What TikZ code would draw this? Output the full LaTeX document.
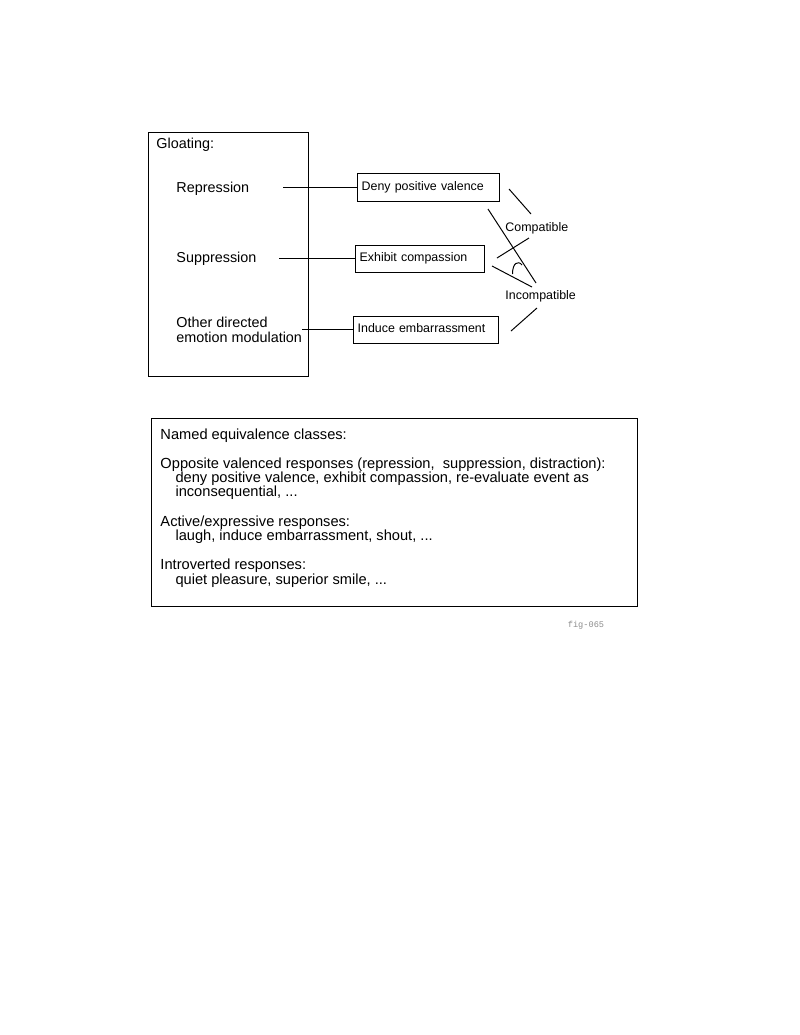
\documentclass[tikz,border=0pt]{standalone}
\usepackage{fontspec}
\setmainfont{Liberation Sans}
\newfontfamily\figmono{Liberation Mono}
\begin{document}
\begin{tikzpicture}[x=0.765pt,y=-0.765pt,line width=0.75pt,
  frame/.style={draw, anchor=north west, inner sep=0pt},
  biglabel/.style={anchor=base west, inner sep=0pt, font=\fontsize{11}{10.9}\selectfont, align=left},
  actbox/.style={draw, anchor=north west, inner xsep=3.2pt, inner ysep=0pt, align=left, text height=7pt, text depth=2.8pt, font=\fontsize{9.5}{11}\selectfont},
  relabel/.style={anchor=base west, inner sep=0pt, font=\fontsize{9.5}{11}\selectfont},
  bodytext/.style={anchor=base west, inner sep=0pt, align=left, font=\fontsize{11.2}{10.9}\selectfont}]
\useasboundingbox (0,0) rectangle (800,1035);

% Gloating box
\node[frame, minimum width=122.4pt, minimum height=186.7pt] (gloatbox) at (148,132) {};
\node[biglabel] (gloat) at (156,148) {Gloating:};
\node[biglabel] (rep) at (176,192) {Repression};
\node[biglabel] (sup) at (176,262) {Suppression};
% base anchor of a multi-line node lies on its last line
\node[biglabel] (other) at (176,342) {Other directed\\emotion modulation};

% action boxes
\node[actbox, text width=102.5pt, minimum height=21.4pt] (deny) at (357,173) {Deny positive valence};
\node[actbox, text width=92.3pt, minimum height=20.7pt] (exhibit) at (355,245) {Exhibit compassion};
\node[actbox, text width=104.5pt, minimum height=20.7pt] (induce) at (353,316) {Induce embarrassment};

% connectors from the labels
\coordinate (repL) at (283,187);
\coordinate (supL) at (279,258);
\coordinate (otherL) at (302,329.5);
\draw (repL) -- (repL -| deny.west);
\draw (supL) -- (supL -| exhibit.west);
\draw (otherL) -- (otherL -| induce.west);

% relation labels
\node[relabel] (compat) at (505,231) {Compatible};
\node[relabel] (incompat) at (505,299) {Incompatible};

% relation strokes
\coordinate (c1a) at (509,189); \coordinate (c1b) at (531,214);
\coordinate (c2a) at (488,209); \coordinate (c2b) at (536,283);
\coordinate (c3a) at (497,258); \coordinate (c3b) at (529,238);
\coordinate (c4a) at (492,266); \coordinate (c4b) at (532,287);
\coordinate (c5a) at (511,331); \coordinate (c5b) at (537,308);
\draw (c1a) -- (c1b);
\draw (c2a) -- (c2b);
\draw (c3a) -- (c3b);
\draw (c4a) -- (c4b);
\draw (c5a) -- (c5b);
\coordinate (arcA) at (512.5,274);
\coordinate (arcB) at (522,265);
\draw (arcA) .. controls (512.5,263) and (518,260) .. (arcB);

% classes box
\node[frame, minimum width=371.8pt, minimum height=143.8pt] (classbox) at (151,418) {};
\node[bodytext] (classes) at (160,584) {Named equivalence classes:\\[11.5pt]
Opposite valenced responses (repression,\ \ suppression, distraction):\\
\hspace*{11.5pt}deny positive valence, exhibit compassion, re-evaluate event as\\
\hspace*{11.5pt}inconsequential, ...\\[11.5pt]
Active/expressive responses:\\
\hspace*{11.5pt}laugh, induce embarrassment, shout, ...\\[11.5pt]
Introverted responses:\\
\hspace*{11.5pt}quiet pleasure, superior smile, ...};

\node[anchor=base, inner sep=0pt, text=black!45, font=\figmono\fontsize{6.6}{7}\selectfont] (figlabel) at (586,627) {fig-065};
\end{tikzpicture}
\end{document}
